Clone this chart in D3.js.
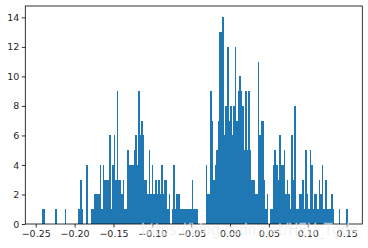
<!DOCTYPE html>
<html>
<head>
<meta charset="utf-8">
<script src="https://cdn.jsdelivr.net/npm/d3@7"></script>
<style>
  body { margin: 0; background: #fff; }
  svg { display: block; }
  .tick text { font-family: "DejaVu Sans", sans-serif; font-size: 9.5px; fill: #262626; }
</style>
</head>
<body>
<div id="chart"></div>
<script>
const width = 368, height = 248;
const margin = {top: 6, right: 5.7, bottom: 24, left: 25.3};

// histogram: 200 equal bins starting at binStart
const binStart = -0.24232;
const binWidth = 0.00197;
const counts = [
  1, 1, 0, 0, 0, 0, 0, 0, 0, 1,
  0, 0, 0, 0, 0, 1, 0, 0, 0, 0,
  0, 0, 0, 0, 1, 3, 1, 0, 0, 4,
  0, 0, 1, 1, 2, 2, 2, 2, 4, 1,
  4, 3, 3, 3, 6, 1, 4, 6, 3, 9,
  3, 3, 2, 3, 1, 1, 5, 4, 4, 4,
  5, 6, 4, 9, 6, 7, 6, 3, 3, 2,
  5, 2, 4, 2, 3, 2, 3, 2, 4, 2,
  3, 3, 1, 2, 0, 1, 4, 1, 2, 2,
  1, 1, 1, 1, 1, 1, 1, 1, 3, 1,
  1, 1, 0, 0, 0, 0, 0, 4, 2, 2,
  9, 7, 3, 4, 5, 7, 13, 13, 14, 6,
  8, 12, 7, 8, 6, 8, 12, 7, 9, 10,
  9, 8, 5, 9, 5, 9, 5, 3, 3, 2,
  2, 11, 6, 7, 7, 3, 1, 2, 0, 1,
  1, 4, 5, 4, 3, 6, 4, 4, 5, 2,
  3, 2, 1, 6, 3, 8, 1, 1, 2, 2,
  3, 1, 5, 2, 1, 5, 4, 1, 2, 2,
  1, 3, 2, 4, 1, 3, 1, 1, 1, 2,
  1, 0, 0, 0, 1, 0, 0, 0, 0, 1
];
const xDomain = [-0.2634, 0.1701];
const yDomain = [0, 14.77];
const xTicks = [-0.25, -0.20, -0.15, -0.10, -0.05, 0.00, 0.05, 0.10, 0.15];
const yTicks = [0, 2, 4, 6, 8, 10, 12, 14];
const watermark = "https://blog.csdn.net/HEU_Tgds";

const bins = counts.map((c, i) => ({
  x0: binStart + i * binWidth,
  x1: binStart + (i + 1) * binWidth,
  count: c
}));

const svg = d3.select("#chart").append("svg")
  .attr("width", width)
  .attr("height", height);

const x = d3.scaleLinear().domain(xDomain).range([margin.left, width - margin.right]);
const y = d3.scaleLinear().domain(yDomain).range([height - margin.bottom, margin.top]);

svg.append("g")
  .selectAll("rect")
  .data(bins.filter(d => d.count > 0))
  .enter()
  .append("rect")
  .attr("x", d => x(d.x0))
  .attr("width", d => x(d.x1) - x(d.x0))
  .attr("y", d => y(d.count))
  .attr("height", d => y(0) - y(d.count))
  .attr("fill", "#1f77b4")
  .attr("shape-rendering", "crispEdges");

const fmt = d => (d < 0 ? "\u2212" : "") + Math.abs(d).toFixed(2);

const xAxis = svg.append("g")
  .attr("transform", "translate(0," + (height - margin.bottom) + ")")
  .call(d3.axisBottom(x).tickValues(xTicks).tickFormat(fmt).tickSize(3.5).tickPadding(2.5));
const yAxis = svg.append("g")
  .attr("transform", "translate(" + margin.left + ",0)")
  .call(d3.axisLeft(y).tickValues(yTicks).tickSize(3.5).tickPadding(2.5));

[xAxis, yAxis].forEach(g => {
  g.select(".domain").remove();
  g.selectAll(".tick line").attr("stroke", "#000").attr("stroke-width", 0.8);
});

// frame
svg.append("rect")
  .attr("x", margin.left)
  .attr("y", margin.top)
  .attr("width", width - margin.left - margin.right)
  .attr("height", height - margin.top - margin.bottom)
  .attr("fill", "none")
  .attr("stroke", "#000")
  .attr("stroke-width", 0.8);

// watermark over the lower axis, as in the source image
svg.append("text")
  .attr("x", 141)
  .attr("y", 235)
  .attr("font-family", "DejaVu Sans, sans-serif")
  .attr("font-size", 15)
  .attr("textLength", 216)
  .attr("lengthAdjust", "spacingAndGlyphs")
  .attr("fill", "#e4e4e4")
  .attr("fill-opacity", 0.65)
  .attr("stroke", "#fff")
  .attr("stroke-width", 0.5)
  .attr("stroke-opacity", 0.5)
  .text(watermark);
</script>
</body>
</html>
